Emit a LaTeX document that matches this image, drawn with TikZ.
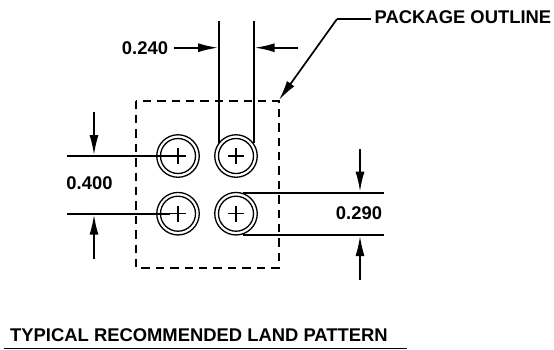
\documentclass[tikz,border=0pt]{standalone}
\usepackage{fontspec}
\setmainfont{Liberation Sans}
\usetikzlibrary{arrows.meta}
\tikzset{
  x=1pt,y=-1pt,
  dimline/.style={line width=1.7pt,black},
  dimarrow/.style={dimline,-{Latex[length=20pt,width=9pt]}},
  outline/.style={line width=2pt,dash pattern=on 8.5pt off 5.9pt},
  lbl/.style={font=\bfseries\fontsize{18.4}{22}\selectfont,inner sep=0pt,text=black},
  ring/.style={circle,draw,line width=1.3pt,minimum size=42.5pt,inner sep=0pt},
  ringin/.style={circle,draw,line width=1.3pt,minimum size=35pt,inner sep=0pt},
  crossb/.style={line width=1.4pt}
}
\begin{document}
\begin{tikzpicture}
\useasboundingbox (0,0) rectangle (554,349);
\fill[white] (0,0) rectangle (554,349);
% pads
\foreach \n/\cx/\cy in {a/178/156,b/236/156,c/178/213.7,d/236/213.7}{
  \node[ring] (\n) at (\cx,\cy) {};
  \node[ringin] (\n i) at (\cx,\cy) {};
  \draw[crossb] (\cx-8,\cy) -- (\cx+8,\cy) (\cx,\cy-8) -- (\cx,\cy+8);
}
% package outline
\coordinate (o1) at (136,100.5);
\coordinate (o2) at (278.5,268);
\draw[outline] (o1) rectangle (o2);
% labels
\node[lbl] (t240) at (145,48) {0.240};
\node[lbl] (t400) at (89.5,183) {0.400};
\node[lbl] (t290) at (359,213) {0.290};
\node[lbl,anchor=west] (tpk) at (374.5,17.5) {PACKAGE OUTLINE};
\node[lbl,anchor=west] (ttl) at (10,335) {TYPICAL RECOMMENDED LAND PATTERN};
% width extension lines
\coordinate (v1t) at (219,21); \coordinate (v1b) at (219,143);
\coordinate (v2t) at (253.7,21); \coordinate (v2b) at (253.7,143);
\draw[dimline] (v1t) -- (v1b);
\draw[dimline] (v2t) -- (v2b);
\coordinate (aL) at (174,47.7); \coordinate (aLe) at (218,47.7);
\coordinate (aR) at (298,47.7); \coordinate (aRe) at (254.7,47.7);
\draw[dimarrow] (aL) -- (aLe);
\draw[dimarrow] (aR) -- (aRe);
% leader
\coordinate (l0) at (370.5,19); \coordinate (l1) at (337,19); \coordinate (l2) at (279,100);
\draw[dimline] (l0) -- (l1);
\draw[dimarrow] (l1) -- (l2);
% left dimension
\coordinate (h1a) at (67,156); \coordinate (h1b) at (170,156);
\coordinate (h2a) at (67,213.7); \coordinate (h2b) at (170,213.7);
\draw[dimline] (h1a) -- (h1b);
\draw[dimline] (h2a) -- (h2b);
\coordinate (u0) at (94,112); \coordinate (u1) at (94,155);
\coordinate (w0) at (94,258.5); \coordinate (w1) at (94,214.7);
\draw[dimarrow] (u0) -- (u1);
\draw[dimarrow] (w0) -- (w1);
% right dimension
\coordinate (r1a) at (243,192.7); \coordinate (r1b) at (384,192.7);
\coordinate (r2a) at (243,235); \coordinate (r2b) at (384,235);
\draw[dimline] (r1a) -- (r1b);
\draw[dimline] (r2a) -- (r2b);
\coordinate (p0) at (360,149); \coordinate (p1) at (360,191.7);
\coordinate (q0) at (360,280); \coordinate (q1) at (360,236);
\draw[dimarrow] (p0) -- (p1);
\draw[dimarrow] (q0) -- (q1);
% title rule
\coordinate (s0) at (4,348.2); \coordinate (s1) at (407,348.2);
\draw[line width=1.4pt] (s0) -- (s1);
\end{tikzpicture}
\end{document}
